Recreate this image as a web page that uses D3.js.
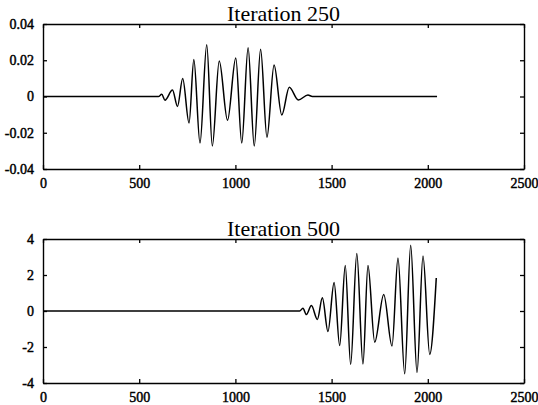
<!DOCTYPE html>
<html>
<head>
<meta charset="utf-8">
<script src="https://cdn.jsdelivr.net/npm/d3@7"></script>
<style>
  body { margin: 0; background: #fff; }
  svg { display: block; }
</style>
</head>
<body>
<div id="chart"></div>
<script>
// data (peaks and troughs of each trace)
var topX = [0, 600, 617, 634, 673, 699, 726, 759, 784, 816, 851, 880, 916, 959, 1002, 1033, 1066, 1098, 1131, 1164, 1201, 1241, 1280, 1327, 1377, 1400, 2048];
var topY = [0, 0, 0.0012, -0.002, 0.0036, -0.0055, 0.0099, -0.0146, 0.0204, -0.0257, 0.0286, -0.0273, 0.0196, -0.0131, 0.0213, -0.0257, 0.0269, -0.0273, 0.0261, -0.0225, 0.0174, -0.0102, 0.0051, -0.0019, 0.0008, 0, 0];

var bottomX = [0, 1334, 1351, 1369, 1395, 1426, 1452, 1481, 1513, 1542, 1571, 1599, 1631, 1663, 1689, 1724, 1771, 1814, 1845, 1880, 1911, 1944, 1975, 2010, 2044];
var bottomY = [0, 0, 0.15, -0.2, 0.3, -0.47, 0.73, -1.14, 1.59, -1.92, 2.53, -2.97, 3.19, -2.95, 2.53, -1.73, 0.92, -1.95, 2.94, -3.49, 3.65, -3.42, 3.05, -2.41, 1.83];

var xTicks = [0, 500, 1000, 1500, 2000, 2500];
var topYTicks = [-0.04, -0.02, 0, 0.02, 0.04];
var bottomYTicks = [-4, -2, 0, 2, 4];
var titles = ["Iteration 250", "Iteration 500"];

var svgWidth = 538;
var svgHeight = 405;
var serif = "'Liberation Serif', 'Times New Roman', serif";

var svg = d3.select("#chart")
  .append("svg")
  .attr("width", svgWidth)
  .attr("height", svgHeight);

// draws one framed panel
function drawPanel(top, height, xs, ys, yTicks, title) {
  var left = 43;
  var width = 481;

  var xScale = d3.scaleLinear()
    .domain([0, 2500])
    .range([0, width]);

  var yScale = d3.scaleLinear()
    .domain(d3.extent(yTicks))
    .range([height, 0]);

  var g = svg.append("g")
    .attr("transform", `translate(${left}, ${top})`);

  var fmt = function(d) { return String(d); };

  // axes, ticks pointing inward
  var bottomAxis = g.append("g")
    .attr("transform", `translate(0, ${height})`)
    .call(d3.axisBottom(xScale).tickValues(xTicks).tickSizeInner(-4).tickSizeOuter(0).tickPadding(9).tickFormat(fmt));
  var topAxis = g.append("g")
    .call(d3.axisTop(xScale).tickValues(xTicks).tickSizeInner(-4).tickSizeOuter(0).tickFormat(""));
  var leftAxis = g.append("g")
    .call(d3.axisLeft(yScale).tickValues(yTicks).tickSizeInner(-4).tickSizeOuter(0).tickPadding(9).tickFormat(fmt));
  var rightAxis = g.append("g")
    .attr("transform", `translate(${width}, 0)`)
    .call(d3.axisRight(yScale).tickValues(yTicks).tickSizeInner(-4).tickSizeOuter(0).tickFormat(""));

  [bottomAxis, topAxis, leftAxis, rightAxis].forEach(function(a) {
    a.attr("font-family", serif).attr("font-size", 14);
    a.select(".domain").attr("stroke", "#000").attr("stroke-width", 1.4);
    a.selectAll(".tick line").attr("stroke", "#000").attr("stroke-width", 1.3);
    a.selectAll("text")
      .attr("fill", "#000")
      .attr("stroke", "#000")
      .attr("stroke-width", 0.45);
  });

  // trace
  var pts = xs.map(function(x, i) { return [x, ys[i]]; });
  var line = d3.line()
    .x(d => xScale(d[0]))
    .y(d => yScale(d[1]))
    .curve(d3.curveMonotoneX);

  g.append("path")
    .datum(pts)
    .attr("d", line)
    .attr("fill", "none")
    .attr("stroke", "#000")
    .attr("stroke-width", 1.5);

  // title
  g.append("text")
    .attr("x", width / 2)
    .attr("y", -3)
    .attr("text-anchor", "middle")
    .attr("font-family", serif)
    .attr("font-size", "22px")
    .attr("fill", "#000")
    .text(title);
}

drawPanel(24, 145, topX, topY, topYTicks, titles[0]);
drawPanel(239, 144, bottomX, bottomY, bottomYTicks, titles[1]);
</script>
</body>
</html>
